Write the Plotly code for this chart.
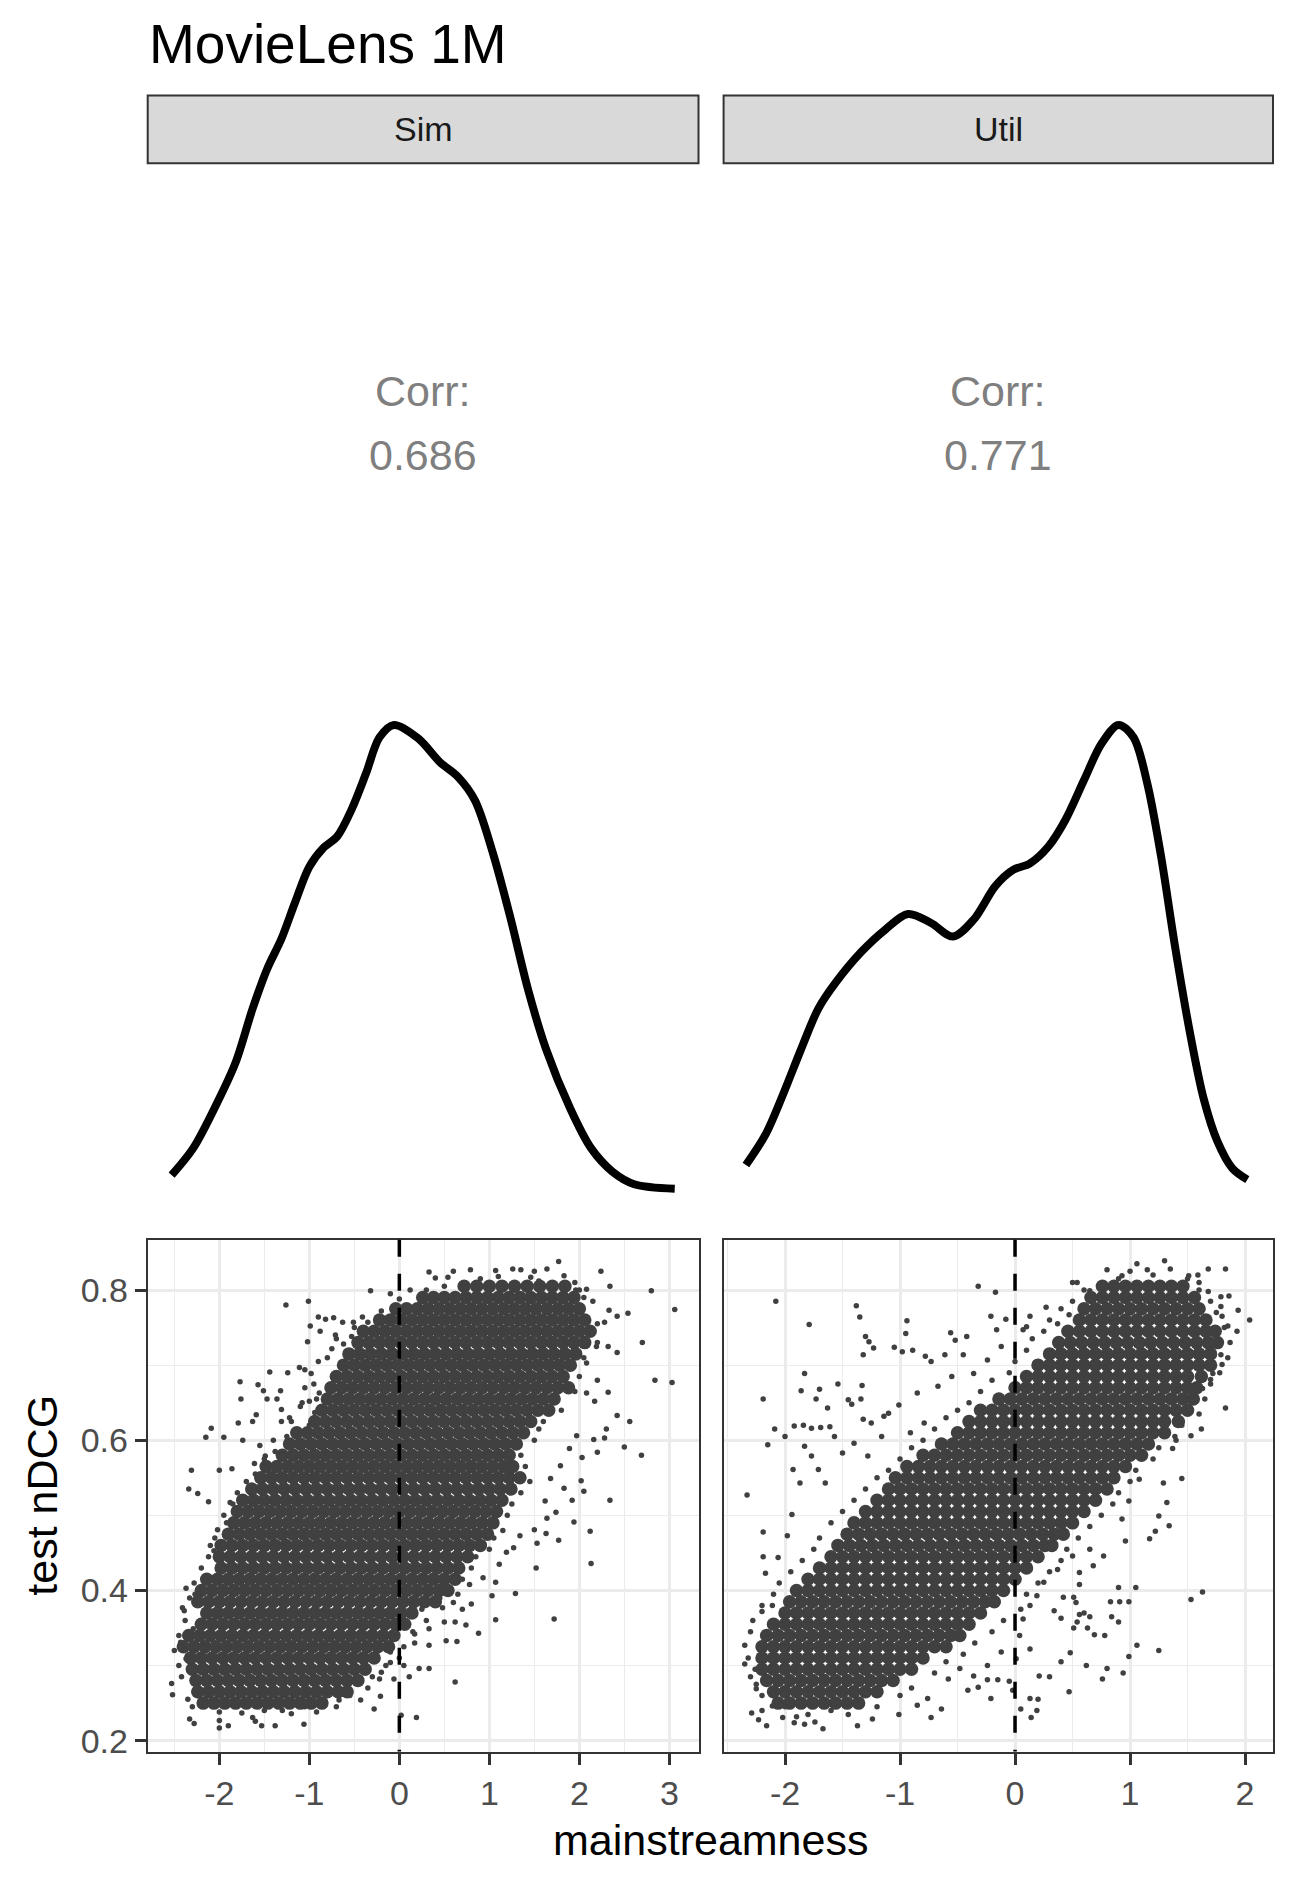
import plotly.graph_objects as go

W, H = 1299, 1889
FONT = "Liberation Sans, Arial, sans-serif"
POINT = "#404040"

# ---- data ----
title = "MovieLens 1M"
methods = ["Sim", "Util"]
corr_values = ["0.686", "0.771"]

# density curves (top row)
sim_dens_x = [-2.53, -2.29, -2.02, -1.82, -1.63, -1.47, -1.31, -1.16, -1.00, -0.84,
              -0.69, -0.53, -0.37, -0.22, -0.06, 0.21, 0.45, 0.65, 0.84, 1.04,
              1.23, 1.43, 1.63, 1.90, 2.13, 2.37, 2.61, 3.06]
sim_dens_y = [0.017, 0.041, 0.082, 0.117, 0.165, 0.200, 0.227, 0.259, 0.291, 0.308,
              0.318, 0.342, 0.374, 0.406, 0.417, 0.405, 0.384, 0.371, 0.350, 0.303,
              0.247, 0.182, 0.129, 0.076, 0.041, 0.020, 0.009, 0.005]
util_dens_x = [-2.34, -2.17, -2.02, -1.86, -1.71, -1.56, -1.34, -1.13, -0.93, -0.73,
               -0.54, -0.36, -0.17, -0.02, 0.13, 0.29, 0.44, 0.60, 0.75, 0.90,
               1.03, 1.15, 1.27, 1.39, 1.52, 1.64, 1.76, 1.89, 2.02]
util_dens_y = [0.026, 0.053, 0.088, 0.129, 0.165, 0.188, 0.215, 0.235, 0.249, 0.241,
               0.229, 0.244, 0.274, 0.288, 0.294, 0.309, 0.333, 0.368, 0.400, 0.417,
               0.406, 0.365, 0.300, 0.221, 0.144, 0.085, 0.047, 0.023, 0.013]

# scatter (bottom row): dense core read row by row, (test nDCG, [mainstreamness ...])
sim_core = [
    (0.805, [0.72, 0.86, 1.00, 1.14, 1.28, 1.42, 1.56, 1.70, 1.84]),
    (0.790, [0.26, 0.38, 0.50, 0.62, 0.74, 0.86, 0.98, 1.10, 1.22, 1.34, 1.46, 1.58, 1.70, 1.82, 1.94]),
    (0.775, [-0.04, 0.08, 0.20, 0.32, 0.44, 0.56, 0.68, 0.80, 0.92, 1.04, 1.16, 1.28, 1.40, 1.52, 1.64, 1.76, 1.88, 2.00]),
    (0.760, [-0.22, -0.10, 0.02, 0.14, 0.26, 0.38, 0.50, 0.62, 0.74, 0.86, 0.98, 1.10, 1.22, 1.34, 1.46, 1.58, 1.70, 1.82, 1.94, 2.06]),
    (0.745, [-0.40, -0.28, -0.16, -0.04, 0.08, 0.20, 0.32, 0.44, 0.56, 0.68, 0.80, 0.92, 1.04, 1.16, 1.28, 1.40, 1.52, 1.64, 1.76, 1.88, 2.00, 2.12]),
    (0.730, [-0.46, -0.34, -0.22, -0.10, 0.02, 0.14, 0.26, 0.38, 0.50, 0.62, 0.74, 0.86, 0.98, 1.10, 1.22, 1.34, 1.46, 1.58, 1.70, 1.82, 1.94, 2.06]),
    (0.715, [-0.56, -0.44, -0.32, -0.20, -0.08, 0.04, 0.16, 0.28, 0.40, 0.52, 0.64, 0.76, 0.88, 1.00, 1.12, 1.24, 1.36, 1.48, 1.60, 1.72, 1.84, 1.96]),
    (0.700, [-0.62, -0.50, -0.38, -0.26, -0.14, -0.02, 0.10, 0.22, 0.34, 0.46, 0.58, 0.70, 0.82, 0.94, 1.06, 1.18, 1.30, 1.42, 1.54, 1.66, 1.78, 1.90]),
    (0.685, [-0.70, -0.58, -0.46, -0.34, -0.22, -0.10, 0.02, 0.14, 0.26, 0.38, 0.50, 0.62, 0.74, 0.86, 0.98, 1.10, 1.22, 1.34, 1.46, 1.58, 1.70, 1.82]),
    (0.670, [-0.76, -0.64, -0.52, -0.40, -0.28, -0.16, -0.04, 0.08, 0.20, 0.32, 0.44, 0.56, 0.68, 0.80, 0.92, 1.04, 1.16, 1.28, 1.40, 1.52, 1.64, 1.76, 1.88]),
    (0.655, [-0.80, -0.68, -0.56, -0.44, -0.32, -0.20, -0.08, 0.04, 0.16, 0.28, 0.40, 0.52, 0.64, 0.76, 0.88, 1.00, 1.12, 1.24, 1.36, 1.48, 1.60, 1.72]),
    (0.640, [-0.86, -0.74, -0.62, -0.50, -0.38, -0.26, -0.14, -0.02, 0.10, 0.22, 0.34, 0.46, 0.58, 0.70, 0.82, 0.94, 1.06, 1.18, 1.30, 1.42, 1.54, 1.66]),
    (0.625, [-0.94, -0.82, -0.70, -0.58, -0.46, -0.34, -0.22, -0.10, 0.02, 0.14, 0.26, 0.38, 0.50, 0.62, 0.74, 0.86, 0.98, 1.10, 1.22, 1.34, 1.46]),
    (0.610, [-1.14, -1.02, -0.90, -0.78, -0.66, -0.54, -0.42, -0.30, -0.18, -0.06, 0.06, 0.18, 0.30, 0.42, 0.54, 0.66, 0.78, 0.90, 1.02, 1.14, 1.26, 1.38]),
    (0.595, [-1.22, -1.10, -0.98, -0.86, -0.74, -0.62, -0.50, -0.38, -0.26, -0.14, -0.02, 0.10, 0.22, 0.34, 0.46, 0.58, 0.70, 0.82, 0.94, 1.06, 1.18, 1.30]),
    (0.580, [-1.30, -1.18, -1.06, -0.94, -0.82, -0.70, -0.58, -0.46, -0.34, -0.22, -0.10, 0.02, 0.14, 0.26, 0.38, 0.50, 0.62, 0.74, 0.86, 0.98, 1.10, 1.22]),
    (0.565, [-1.48, -1.36, -1.24, -1.12, -1.00, -0.88, -0.76, -0.64, -0.52, -0.40, -0.28, -0.16, -0.04, 0.08, 0.20, 0.32, 0.44, 0.56, 0.68, 0.80, 0.92, 1.04, 1.16, 1.26]),
    (0.550, [-1.54, -1.42, -1.30, -1.18, -1.06, -0.94, -0.82, -0.70, -0.58, -0.46, -0.34, -0.22, -0.10, 0.02, 0.14, 0.26, 0.38, 0.50, 0.62, 0.74, 0.86, 0.98, 1.10, 1.22, 1.34]),
    (0.535, [-1.64, -1.52, -1.40, -1.28, -1.16, -1.04, -0.92, -0.80, -0.68, -0.56, -0.44, -0.32, -0.20, -0.08, 0.04, 0.16, 0.28, 0.40, 0.52, 0.64, 0.76, 0.88, 1.00, 1.12, 1.24]),
    (0.520, [-1.74, -1.62, -1.50, -1.38, -1.26, -1.14, -1.02, -0.90, -0.78, -0.66, -0.54, -0.42, -0.30, -0.18, -0.06, 0.06, 0.18, 0.30, 0.42, 0.54, 0.66, 0.78, 0.90, 1.02, 1.14]),
    (0.505, [-1.80, -1.68, -1.56, -1.44, -1.32, -1.20, -1.08, -0.96, -0.84, -0.72, -0.60, -0.48, -0.36, -0.24, -0.12, 0.00, 0.12, 0.24, 0.36, 0.48, 0.60, 0.72, 0.84, 0.96, 1.08]),
    (0.490, [-1.84, -1.72, -1.60, -1.48, -1.36, -1.24, -1.12, -1.00, -0.88, -0.76, -0.64, -0.52, -0.40, -0.28, -0.16, -0.04, 0.08, 0.20, 0.32, 0.44, 0.56, 0.68, 0.80, 0.92, 1.04]),
    (0.475, [-1.90, -1.78, -1.66, -1.54, -1.42, -1.30, -1.18, -1.06, -0.94, -0.82, -0.70, -0.58, -0.46, -0.34, -0.22, -0.10, 0.02, 0.14, 0.26, 0.38, 0.50, 0.62, 0.74, 0.86, 0.98]),
    (0.460, [-1.98, -1.86, -1.74, -1.62, -1.50, -1.38, -1.26, -1.14, -1.02, -0.90, -0.78, -0.66, -0.54, -0.42, -0.30, -0.18, -0.06, 0.06, 0.18, 0.30, 0.42, 0.54, 0.66, 0.78, 0.90]),
    (0.445, [-2.00, -1.88, -1.76, -1.64, -1.52, -1.40, -1.28, -1.16, -1.04, -0.92, -0.80, -0.68, -0.56, -0.44, -0.32, -0.20, -0.08, 0.04, 0.16, 0.28, 0.40, 0.52, 0.64, 0.76]),
    (0.430, [-1.98, -1.86, -1.74, -1.62, -1.50, -1.38, -1.26, -1.14, -1.02, -0.90, -0.78, -0.66, -0.54, -0.42, -0.30, -0.18, -0.06, 0.06, 0.18, 0.30, 0.42, 0.54, 0.66]),
    (0.415, [-2.14, -2.02, -1.90, -1.78, -1.66, -1.54, -1.42, -1.30, -1.18, -1.06, -0.94, -0.82, -0.70, -0.58, -0.46, -0.34, -0.22, -0.10, 0.02, 0.14, 0.26, 0.38, 0.50, 0.62]),
    (0.400, [-2.20, -2.08, -1.96, -1.84, -1.72, -1.60, -1.48, -1.36, -1.24, -1.12, -1.00, -0.88, -0.76, -0.64, -0.52, -0.40, -0.28, -0.16, -0.04, 0.08, 0.20, 0.32, 0.44, 0.54]),
    (0.385, [-2.24, -2.12, -2.00, -1.88, -1.76, -1.64, -1.52, -1.40, -1.28, -1.16, -1.04, -0.92, -0.80, -0.68, -0.56, -0.44, -0.32, -0.20, -0.08, 0.04, 0.16, 0.28, 0.40]),
    (0.370, [-2.14, -2.02, -1.90, -1.78, -1.66, -1.54, -1.42, -1.30, -1.18, -1.06, -0.94, -0.82, -0.70, -0.58, -0.46, -0.34, -0.22, -0.10, 0.02, 0.14]),
    (0.355, [-2.20, -2.08, -1.96, -1.84, -1.72, -1.60, -1.48, -1.36, -1.24, -1.12, -1.00, -0.88, -0.76, -0.64, -0.52, -0.40, -0.28, -0.16, -0.04, 0.06]),
    (0.340, [-2.34, -2.22, -2.10, -1.98, -1.86, -1.74, -1.62, -1.50, -1.38, -1.26, -1.14, -1.02, -0.90, -0.78, -0.66, -0.54, -0.42, -0.30, -0.18, -0.06]),
    (0.325, [-2.40, -2.28, -2.16, -2.04, -1.92, -1.80, -1.68, -1.56, -1.44, -1.32, -1.20, -1.08, -0.96, -0.84, -0.72, -0.60, -0.48, -0.36, -0.24, -0.12]),
    (0.310, [-2.32, -2.20, -2.08, -1.96, -1.84, -1.72, -1.60, -1.48, -1.36, -1.24, -1.12, -1.00, -0.88, -0.76, -0.64, -0.52, -0.40, -0.28]),
    (0.295, [-2.30, -2.18, -2.06, -1.94, -1.82, -1.70, -1.58, -1.46, -1.34, -1.22, -1.10, -0.98, -0.86, -0.74, -0.62, -0.50, -0.38]),
    (0.280, [-2.26, -2.14, -2.02, -1.90, -1.78, -1.66, -1.54, -1.42, -1.30, -1.18, -1.06, -0.94, -0.82, -0.70, -0.58, -0.46]),
    (0.265, [-2.24, -2.12, -2.00, -1.88, -1.76, -1.64, -1.52, -1.40, -1.28, -1.16, -1.04, -0.92, -0.80, -0.68, -0.58]),
    (0.250, [-2.18, -2.06, -1.94, -1.82, -1.70, -1.58, -1.46, -1.34, -1.22, -1.10, -0.98, -0.86]),
]
sim_sparse = [
    (0.33, 0.824), (0.40, 0.816), (0.54, 0.817), (0.60, 0.825), (0.79, 0.827), (1.07, 0.826),
    (1.26, 0.828), (1.35, 0.827), (1.46, 0.817), (1.55, 0.812), (1.64, 0.828), (1.77, 0.838),
    (1.83, 0.819), (1.96, 0.800), (2.08, 0.801), (2.24, 0.825), (2.34, 0.805), (2.80, 0.799),
    (3.06, 0.774), (2.54, 0.769), (2.42, 0.765), (2.28, 0.757), (2.33, 0.773), (2.70, 0.730),
    (2.42, 0.717), (2.32, 0.725), (2.19, 0.725), (2.15, 0.747), (2.08, 0.703), (2.20, 0.680),
    (2.84, 0.680), (3.03, 0.677), (2.32, 0.664), (2.08, 0.663), (2.17, 0.652), (2.42, 0.633),
    (2.56, 0.625), (2.30, 0.615), (1.97, 0.606), (2.16, 0.601), (2.28, 0.603), (2.50, 0.591),
    (2.69, 0.580), (2.20, 0.584), (2.03, 0.577), (1.89, 0.589), (1.79, 0.566), (2.02, 0.546),
    (2.05, 0.532), (1.83, 0.536), (1.68, 0.549), (1.62, 0.519), (1.92, 0.520), (2.34, 0.520),
    (1.64, 0.496), (1.74, 0.504), (1.94, 0.491), (1.50, 0.481), (1.63, 0.476), (1.77, 0.467),
    (2.12, 0.479), (1.53, 0.463), (1.34, 0.473), (1.27, 0.457), (1.19, 0.451), (1.11, 0.435),
    (1.52, 0.430), (2.13, 0.436), (0.93, 0.417), (1.07, 0.411), (0.78, 0.408), (1.03, 0.393),
    (1.29, 0.396), (1.72, 0.362), (1.07, 0.361), (0.60, 0.384), (0.70, 0.375), (0.80, 0.382),
    (0.48, 0.377), (0.50, 0.358), (0.62, 0.358), (0.74, 0.354), (0.88, 0.343), (0.33, 0.349),
    (0.17, 0.342), (0.52, 0.333), (0.64, 0.332), (0.33, 0.327), (0.17, 0.330), (0.33, 0.296),
    (0.22, 0.296), (0.11, 0.285), (-0.06, 0.282), (-0.20, 0.291), (-0.22, 0.282), (-0.43, 0.254),
    (-0.28, 0.242), (-0.21, 0.259), (0.02, 0.234), (0.19, 0.231), (0.62, 0.278), (0.05, 0.300),
    (-0.10, 0.318), (-0.10, 0.304), (-2.53, 0.276), (-2.52, 0.261), (-2.41, 0.377), (-2.39, 0.373),
    (-2.37, 0.403), (-2.27, 0.395), (-2.16, 0.419), (-2.33, 0.229), (-2.28, 0.223), (-2.00, 0.217),
    (-1.90, 0.220), (-1.53, 0.220), (-1.38, 0.220), (-1.06, 0.222), (-2.00, 0.227), (-1.63, 0.231),
    (-1.20, 0.236), (-0.92, 0.238), (-0.67, 0.254), (-0.84, 0.247), (-0.61, 0.265), (-2.37, 0.309),
    (-2.43, 0.331), (-2.29, 0.349), (-2.21, 0.360), (-2.06, 0.453), (-1.96, 0.428), (-2.31, 0.560),
    (-2.34, 0.535), (-2.24, 0.529), (-2.12, 0.518), (-2.00, 0.560), (-1.86, 0.562), (-1.88, 0.517),
    (-1.86, 0.486), (-2.02, 0.481), (-2.09, 0.616), (-2.15, 0.604), (-1.95, 0.604), (-1.74, 0.600),
    (-1.79, 0.623), (-1.63, 0.625), (-1.59, 0.634), (-1.77, 0.678), (-1.76, 0.655), (-1.57, 0.674),
    (-1.51, 0.666), (-1.47, 0.655), (-1.36, 0.655), (-1.32, 0.666), (-1.44, 0.691), (-1.24, 0.690),
    (-1.11, 0.697), (-1.05, 0.694), (-0.98, 0.689), (-0.89, 0.663), (-1.26, 0.780), (-1.01, 0.785),
    (-0.90, 0.764), (-0.82, 0.761), (-0.73, 0.763), (-0.63, 0.757), (-0.51, 0.757), (-0.41, 0.764),
    (-0.99, 0.752), (-0.88, 0.745), (-1.02, 0.731), (-0.71, 0.740), (-0.53, 0.738), (-0.32, 0.799),
    (-0.10, 0.795), (-0.21, 0.764), (-1.31, 0.625), (-1.22, 0.630), (-0.94, 0.637), (-1.55, 0.593),
    (-1.49, 0.579), (-1.61, 0.569), (-1.31, 0.641), (-1.08, 0.650), (-1.00, 0.652),
]
sim_halo = [
    (-0.80, 0.710), (-0.90, 0.705), (-0.75, 0.722), (-0.62, 0.728), (-0.70, 0.735), (-0.50, 0.750),
    (-0.35, 0.757), (-0.20, 0.772), (0.00, 0.788), (0.12, 0.800), (-0.95, 0.675), (-1.05, 0.670),
    (-0.92, 0.655), (-1.10, 0.645), (-1.00, 0.620), (-1.20, 0.625), (-1.25, 0.605), (-1.40, 0.600),
    (-1.38, 0.585), (-1.50, 0.575), (-1.45, 0.560), (-1.60, 0.555), (-1.70, 0.545), (-1.65, 0.530),
    (-1.80, 0.530), (-1.85, 0.515), (-1.95, 0.500), (-1.92, 0.490), (-2.05, 0.470), (-2.10, 0.460),
    (-2.12, 0.445), (-2.20, 0.430), (-2.28, 0.410), (-2.33, 0.390), (-2.38, 0.360), (-2.45, 0.340),
    (-2.50, 0.320), (-2.45, 0.300), (-2.42, 0.285), (-0.70, 0.245), (-0.55, 0.260), (-0.35, 0.270),
    (-0.30, 0.285), (-0.15, 0.300), (0.00, 0.310), (0.05, 0.325), (0.15, 0.345), (0.30, 0.360),
    (0.25, 0.375), (0.45, 0.390), (0.65, 0.395), (0.70, 0.415), (0.80, 0.430), (0.85, 0.445),
    (1.00, 0.455), (1.05, 0.470), (1.15, 0.480), (1.20, 0.500), (1.25, 0.515), (1.35, 0.530),
    (1.45, 0.545), (1.40, 0.565), (1.35, 0.580), (1.50, 0.600), (1.55, 0.615), (1.60, 0.625),
    (1.80, 0.640), (1.75, 0.655), (1.95, 0.665), (2.00, 0.685), (2.05, 0.710), (2.20, 0.730),
    (2.20, 0.755), (2.15, 0.785), (2.05, 0.790), (-2.30, 0.245), (-2.35, 0.255), (-2.00, 0.238),
    (-1.75, 0.237), (-1.50, 0.240), (-1.30, 0.240), (-1.05, 0.245), (-1.60, 0.226), (0.50, 0.805),
    (0.30, 0.800), (1.95, 0.810), (2.00, 0.800), (1.50, 0.825), (1.10, 0.818), (0.90, 0.815),
]

util_core = [
    (0.805, [0.76, 0.86, 0.96, 1.06, 1.16, 1.26, 1.36, 1.46]),
    (0.790, [0.66, 0.76, 0.86, 0.96, 1.06, 1.16, 1.26, 1.36, 1.46, 1.56]),
    (0.775, [0.60, 0.70, 0.80, 0.90, 1.00, 1.10, 1.20, 1.30, 1.40, 1.50, 1.60]),
    (0.760, [0.56, 0.66, 0.76, 0.86, 0.96, 1.06, 1.16, 1.26, 1.36, 1.46, 1.56, 1.66]),
    (0.745, [0.46, 0.56, 0.66, 0.76, 0.86, 0.96, 1.06, 1.16, 1.26, 1.36, 1.46, 1.56, 1.66, 1.74]),
    (0.730, [0.38, 0.48, 0.58, 0.68, 0.78, 0.88, 0.98, 1.08, 1.18, 1.28, 1.38, 1.48, 1.58, 1.68, 1.76]),
    (0.715, [0.30, 0.40, 0.50, 0.60, 0.70, 0.80, 0.90, 1.00, 1.10, 1.20, 1.30, 1.40, 1.50, 1.60, 1.70]),
    (0.700, [0.20, 0.30, 0.40, 0.50, 0.60, 0.70, 0.80, 0.90, 1.00, 1.10, 1.20, 1.30, 1.40, 1.50, 1.60, 1.70]),
    (0.685, [0.10, 0.20, 0.30, 0.40, 0.50, 0.60, 0.70, 0.80, 0.90, 1.00, 1.10, 1.20, 1.30, 1.40, 1.50, 1.62]),
    (0.670, [0.00, 0.10, 0.20, 0.30, 0.40, 0.50, 0.60, 0.70, 0.80, 0.90, 1.00, 1.10, 1.20, 1.30, 1.40, 1.50, 1.58]),
    (0.655, [-0.14, -0.04, 0.06, 0.16, 0.26, 0.36, 0.46, 0.56, 0.66, 0.76, 0.86, 0.96, 1.06, 1.16, 1.26, 1.36, 1.46, 1.55]),
    (0.640, [-0.30, -0.20, -0.10, 0.00, 0.10, 0.20, 0.30, 0.40, 0.50, 0.60, 0.70, 0.80, 0.90, 1.00, 1.10, 1.20, 1.30, 1.40, 1.50]),
    (0.625, [-0.40, -0.30, -0.20, -0.10, 0.00, 0.10, 0.20, 0.30, 0.40, 0.50, 0.60, 0.70, 0.80, 0.90, 1.00, 1.10, 1.20, 1.30, 1.42]),
    (0.610, [-0.50, -0.40, -0.30, -0.20, -0.10, 0.00, 0.10, 0.20, 0.30, 0.40, 0.50, 0.60, 0.70, 0.80, 0.90, 1.00, 1.10, 1.20, 1.30]),
    (0.595, [-0.64, -0.54, -0.44, -0.34, -0.24, -0.14, -0.04, 0.06, 0.16, 0.26, 0.36, 0.46, 0.56, 0.66, 0.76, 0.86, 0.96, 1.06, 1.16]),
    (0.580, [-0.80, -0.70, -0.60, -0.50, -0.40, -0.30, -0.20, -0.10, 0.00, 0.10, 0.20, 0.30, 0.40, 0.50, 0.60, 0.70, 0.80, 0.90, 1.00, 1.10]),
    (0.565, [-0.94, -0.84, -0.74, -0.64, -0.54, -0.44, -0.34, -0.24, -0.14, -0.04, 0.06, 0.16, 0.26, 0.36, 0.46, 0.56, 0.66, 0.76, 0.86, 0.96]),
    (0.550, [-1.04, -0.94, -0.84, -0.74, -0.64, -0.54, -0.44, -0.34, -0.24, -0.14, -0.04, 0.06, 0.16, 0.26, 0.36, 0.46, 0.56, 0.66, 0.76, 0.86]),
    (0.535, [-1.10, -1.00, -0.90, -0.80, -0.70, -0.60, -0.50, -0.40, -0.30, -0.20, -0.10, 0.00, 0.10, 0.20, 0.30, 0.40, 0.50, 0.60, 0.70, 0.80]),
    (0.520, [-1.20, -1.10, -1.00, -0.90, -0.80, -0.70, -0.60, -0.50, -0.40, -0.30, -0.20, -0.10, 0.00, 0.10, 0.20, 0.30, 0.40, 0.50, 0.60, 0.70]),
    (0.505, [-1.30, -1.20, -1.10, -1.00, -0.90, -0.80, -0.70, -0.60, -0.50, -0.40, -0.30, -0.20, -0.10, 0.00, 0.10, 0.20, 0.30, 0.40, 0.50, 0.60]),
    (0.490, [-1.40, -1.30, -1.20, -1.10, -1.00, -0.90, -0.80, -0.70, -0.60, -0.50, -0.40, -0.30, -0.20, -0.10, 0.00, 0.10, 0.20, 0.30, 0.40, 0.50]),
    (0.475, [-1.46, -1.36, -1.26, -1.16, -1.06, -0.96, -0.86, -0.76, -0.66, -0.56, -0.46, -0.36, -0.26, -0.16, -0.06, 0.04, 0.14, 0.24, 0.34, 0.42]),
    (0.460, [-1.54, -1.44, -1.34, -1.24, -1.14, -1.04, -0.94, -0.84, -0.74, -0.64, -0.54, -0.44, -0.34, -0.24, -0.14, -0.04, 0.06, 0.16, 0.26, 0.32]),
    (0.445, [-1.60, -1.50, -1.40, -1.30, -1.20, -1.10, -1.00, -0.90, -0.80, -0.70, -0.60, -0.50, -0.40, -0.30, -0.20, -0.10, 0.00, 0.10, 0.20]),
    (0.430, [-1.70, -1.60, -1.50, -1.40, -1.30, -1.20, -1.10, -1.00, -0.90, -0.80, -0.70, -0.60, -0.50, -0.40, -0.30, -0.20, -0.10, 0.00, 0.10]),
    (0.415, [-1.80, -1.70, -1.60, -1.50, -1.40, -1.30, -1.20, -1.10, -1.00, -0.90, -0.80, -0.70, -0.60, -0.50, -0.40, -0.30, -0.20, -0.10, 0.00]),
    (0.400, [-1.90, -1.80, -1.70, -1.60, -1.50, -1.40, -1.30, -1.20, -1.10, -1.00, -0.90, -0.80, -0.70, -0.60, -0.50, -0.40, -0.30, -0.20, -0.10]),
    (0.385, [-1.96, -1.86, -1.76, -1.66, -1.56, -1.46, -1.36, -1.26, -1.16, -1.06, -0.96, -0.86, -0.76, -0.66, -0.56, -0.46, -0.36, -0.26, -0.18]),
    (0.370, [-2.00, -1.90, -1.80, -1.70, -1.60, -1.50, -1.40, -1.30, -1.20, -1.10, -1.00, -0.90, -0.80, -0.70, -0.60, -0.50, -0.40, -0.30]),
    (0.355, [-2.10, -2.00, -1.90, -1.80, -1.70, -1.60, -1.50, -1.40, -1.30, -1.20, -1.10, -1.00, -0.90, -0.80, -0.70, -0.60, -0.50, -0.40]),
    (0.340, [-2.16, -2.06, -1.96, -1.86, -1.76, -1.66, -1.56, -1.46, -1.36, -1.26, -1.16, -1.06, -0.96, -0.86, -0.76, -0.66, -0.56, -0.48]),
    (0.325, [-2.20, -2.10, -2.00, -1.90, -1.80, -1.70, -1.60, -1.50, -1.40, -1.30, -1.20, -1.10, -1.00, -0.90, -0.80, -0.70, -0.60]),
    (0.310, [-2.20, -2.10, -2.00, -1.90, -1.80, -1.70, -1.60, -1.50, -1.40, -1.30, -1.20, -1.10, -1.00, -0.90, -0.80]),
    (0.295, [-2.20, -2.10, -2.00, -1.90, -1.80, -1.70, -1.60, -1.50, -1.40, -1.30, -1.20, -1.10, -1.00, -0.90]),
    (0.280, [-2.16, -2.06, -1.96, -1.86, -1.76, -1.66, -1.56, -1.46, -1.36, -1.26, -1.16, -1.06]),
    (0.265, [-2.10, -2.00, -1.90, -1.80, -1.70, -1.60, -1.50, -1.40, -1.30, -1.20]),
    (0.250, [-2.06, -1.96, -1.86, -1.76, -1.66, -1.56, -1.46, -1.36]),
]
util_sparse = [
    (-2.08, 0.785), (-1.79, 0.754), (-1.38, 0.779), (-1.35, 0.764), (-0.94, 0.759), (-0.95, 0.742),
    (-0.32, 0.805), (-0.17, 0.797), (-0.21, 0.765), (-0.08, 0.761), (-0.16, 0.747), (-0.42, 0.738),
    (-0.56, 0.743), (-0.52, 0.733), (-1.30, 0.738), (-1.27, 0.731), (-1.23, 0.723), (-1.32, 0.714),
    (-1.05, 0.724), (-0.98, 0.718), (-0.89, 0.720), (-0.78, 0.712), (-0.73, 0.705), (-0.61, 0.714),
    (-0.45, 0.714), (-1.83, 0.689), (-1.54, 0.675), (-1.33, 0.673), (-1.86, 0.666), (-1.70, 0.668),
    (-1.73, 0.655), (-2.19, 0.655), (-1.63, 0.643), (-1.45, 0.654), (-1.42, 0.648), (-1.34, 0.655),
    (-1.32, 0.628), (-1.25, 0.623), (-1.14, 0.632), (-1.10, 0.636), (-1.01, 0.647), (-2.09, 0.615),
    (-2.00, 0.605), (-1.92, 0.619), (-1.84, 0.620), (-1.77, 0.616), (-1.69, 0.617), (-1.61, 0.618),
    (-1.57, 0.605), (-2.15, 0.594), (-2.33, 0.527), (-2.19, 0.478), (-2.19, 0.445), (-2.06, 0.444),
    (-2.17, 0.423), (-1.98, 0.473), (-1.94, 0.501), (-1.93, 0.561), (-1.87, 0.543), (-1.77, 0.579),
    (-1.83, 0.592), (-1.71, 0.561), (-1.65, 0.543), (-1.50, 0.583), (-1.40, 0.596), (-1.28, 0.579),
    (-1.16, 0.605), (-0.91, 0.610), (-0.79, 0.623), (-0.85, 0.663), (-0.67, 0.672), (-0.55, 0.685),
    (-0.36, 0.689), (-0.24, 0.707), (-0.12, 0.725), (0.07, 0.747), (0.13, 0.765), (0.27, 0.777),
    (0.47, 0.767), (0.37, 0.755), (0.10, 0.751), (0.50, 0.810), (0.54, 0.810), (0.65, 0.799),
    (0.74, 0.794), (1.30, 0.839), (1.06, 0.835), (1.15, 0.827), (1.35, 0.828), (1.68, 0.828),
    (1.83, 0.828), (1.59, 0.820), (1.51, 0.819), (1.00, 0.825), (0.80, 0.827), (0.93, 0.819),
    (1.60, 0.800), (1.68, 0.798), (1.79, 0.791), (1.86, 0.792), (1.94, 0.773), (2.04, 0.760),
    (1.93, 0.745), (1.85, 0.752), (1.80, 0.765), (1.79, 0.778), (1.79, 0.714), (1.80, 0.701),
    (1.72, 0.689), (1.70, 0.681), (1.63, 0.669), (1.83, 0.643), (1.62, 0.615), (1.53, 0.606),
    (1.39, 0.605), (1.37, 0.589), (1.45, 0.549), (1.29, 0.543), (1.32, 0.517), (1.25, 0.499),
    (1.34, 0.486), (1.17, 0.469), (1.22, 0.479), (1.08, 0.548), (0.99, 0.519), (0.93, 0.495),
    (0.96, 0.466), (0.90, 0.404), (1.05, 0.404), (0.83, 0.385), (0.91, 0.385), (0.99, 0.385),
    (0.84, 0.365), (0.90, 0.358), (0.69, 0.341), (0.78, 0.340), (0.63, 0.350), (0.56, 0.368),
    (0.65, 0.365), (0.54, 0.358), (0.40, 0.363), (0.51, 0.350), (0.34, 0.373), (0.60, 0.370),
    (0.53, 0.384), (0.51, 0.391), (0.42, 0.391), (0.56, 0.408), (0.56, 0.424), (0.68, 0.433),
    (0.77, 0.446), (0.65, 0.455), (0.50, 0.446), (0.37, 0.428), (0.25, 0.411), (0.19, 0.393),
    (0.13, 0.380), (0.07, 0.362), (0.04, 0.340), (0.13, 0.322), (0.01, 0.309), (-0.12, 0.318),
    (-0.24, 0.300), (1.53, 0.388), (1.63, 0.398), (1.25, 0.320), (1.06, 0.327), (0.99, 0.312),
    (0.94, 0.290), (0.76, 0.282), (0.80, 0.296), (0.62, 0.300), (0.47, 0.265), (0.40, 0.305),
    (0.48, 0.317), (0.30, 0.285), (0.21, 0.286), (0.13, 0.256), (0.20, 0.255), (0.14, 0.231),
    (0.19, 0.240), (0.05, 0.242), (-0.02, 0.267), (-0.36, 0.286), (-0.41, 0.267), (-0.32, 0.271),
    (-0.21, 0.256), (-0.24, 0.281), (-0.15, 0.281), (-0.05, 0.279), (-0.73, 0.231), (-1.01, 0.235),
    (-1.24, 0.229), (-1.37, 0.220), (-1.67, 0.216), (-1.74, 0.225), (-1.83, 0.222), (-1.92, 0.224),
    (-2.02, 0.231), (-2.16, 0.220), (-2.23, 0.228), (-2.29, 0.237), (-2.35, 0.327), (-2.35, 0.302),
    (-2.26, 0.295), (-2.25, 0.269), (-2.20, 0.260), (-2.11, 0.246), (-2.20, 0.372), (-2.11, 0.380),
    (-2.00, 0.362), (-0.76, 0.256), (-0.58, 0.282), (-0.48, 0.296), (-0.85, 0.247), (-0.64, 0.242),
]
util_halo = [
    (0.60, 0.800), (0.50, 0.785), (0.40, 0.775), (0.30, 0.760), (0.25, 0.745), (0.15, 0.735),
    (0.10, 0.720), (0.00, 0.705), (-0.05, 0.690), (-0.20, 0.680), (-0.30, 0.665), (-0.40, 0.650),
    (-0.50, 0.640), (-0.60, 0.630), (-0.70, 0.615), (-0.80, 0.600), (-0.90, 0.590), (-1.00, 0.575),
    (-1.10, 0.560), (-1.20, 0.550), (-1.30, 0.535), (-1.40, 0.520), (-1.50, 0.505), (-1.60, 0.490),
    (-1.70, 0.470), (-1.75, 0.455), (-1.85, 0.440), (-1.95, 0.425), (-2.05, 0.410), (-2.10, 0.395),
    (-2.20, 0.380), (-2.28, 0.360), (-2.30, 0.345), (-2.32, 0.310), (-2.30, 0.285), (-2.25, 0.275),
    (-1.20, 0.245), (-1.00, 0.260), (-0.90, 0.270), (-0.70, 0.290), (-0.60, 0.305), (-0.45, 0.315),
    (-0.35, 0.330), (-0.20, 0.345), (-0.10, 0.360), (0.05, 0.375), (0.10, 0.395), (0.20, 0.410),
    (0.30, 0.425), (0.40, 0.440), (0.45, 0.455), (0.55, 0.470), (0.65, 0.485), (0.75, 0.500),
    (0.85, 0.515), (0.90, 0.530), (1.00, 0.545), (1.05, 0.560), (1.20, 0.575), (1.25, 0.590),
    (1.40, 0.600), (1.45, 0.620), (1.60, 0.635), (1.65, 0.655), (1.70, 0.675), (1.78, 0.690),
    (1.85, 0.710), (1.87, 0.730), (1.82, 0.750), (1.75, 0.770), (1.70, 0.785), (1.60, 0.810),
    (1.50, 0.815), (1.20, 0.820), (0.90, 0.815), (-2.20, 0.240), (-2.00, 0.245), (-1.80, 0.235),
    (-1.60, 0.240), (-1.45, 0.235), (-1.90, 0.232),
]

x_ticks = [[-2, -1, 0, 1, 2, 3], [-2, -1, 0, 1, 2]]
x_minor = [[-2.5, -1.5, -0.5, 0.5, 1.5, 2.5], [-2.5, -1.5, -0.5, 0.5, 1.5]]
y_ticks = [0.2, 0.4, 0.6, 0.8]
y_minor = [0.3, 0.5, 0.7]

# ---- layout in pixels ----
cols = [(147.7, 698.5), (723.6, 1273.0)]
x_ranges = [[-2.796, 3.324], [-2.534, 2.243]]
row_dens = (702, 1222)
row_scat = (1245, 1759)
strip = (96, 164)


def px(v):
    return v / W


def py(v):
    return 1 - v / H


def flat(core):
    xs = [x for yv, row in core for x in row]
    ys = [yv for yv, row in core for _ in row]
    return xs, ys


fig = go.Figure()

dens = [(sim_dens_x, sim_dens_y), (util_dens_x, util_dens_y)]
cores = [sim_core, util_core]
sparse = [sim_sparse + sim_halo, util_sparse + util_halo]

for i in range(2):
    sx = "x" if i == 0 else "x2"
    sy = "y" if i == 0 else "y2"
    dx, dy = ("x3", "y3") if i == 0 else ("x4", "y4")
    fig.add_trace(go.Scatter(
        x=dens[i][0], y=dens[i][1], mode="lines", xaxis=dx, yaxis=dy,
        line=dict(color="black", width=8, shape="spline", smoothing=0.9),
        hoverinfo="skip"))
    cx, cy = flat(cores[i])
    fig.add_trace(go.Scatter(
        x=cx, y=cy, mode="markers", xaxis=sx, yaxis=sy,
        marker=dict(size=13.5, color=POINT, line=dict(width=0))))
    fig.add_trace(go.Scatter(
        x=[p[0] for p in sparse[i]], y=[p[1] for p in sparse[i]],
        mode="markers", xaxis=sx, yaxis=sy,
        marker=dict(size=5.5, color=POINT, line=dict(width=0))))

tickfont = dict(family=FONT, size=34, color="#4D4D4D")


def scat_x(i):
    return dict(
        domain=[px(cols[i][0]), px(cols[i][1])], range=x_ranges[i],
        anchor="y" if i == 0 else "y2",
        tickmode="array", tickvals=x_ticks[i], ticktext=[str(t) for t in x_ticks[i]],
        ticks="outside", ticklen=11, tickwidth=2.5, tickcolor="#333333",
        tickfont=tickfont, showline=True, mirror=True, linecolor="#333333", linewidth=2,
        showgrid=True, gridcolor="#EBEBEB", gridwidth=2.6, zeroline=False,
        minor=dict(tickmode="array", tickvals=x_minor[i], showgrid=True,
                   gridcolor="#EBEBEB", gridwidth=1.3, ticks=""),
        fixedrange=True)


def scat_y(i):
    return dict(
        domain=[py(row_scat[1]), py(row_scat[0])], range=[0.1855, 0.867],
        anchor="x" if i == 0 else "x2",
        tickmode="array", tickvals=y_ticks, ticktext=[f"{t:.1f}" for t in y_ticks],
        ticks="outside" if i == 0 else "", ticklen=11, tickwidth=2.5, tickcolor="#333333",
        showticklabels=(i == 0), tickfont=tickfont,
        showline=True, mirror=True, linecolor="#333333", linewidth=2,
        showgrid=True, gridcolor="#EBEBEB", gridwidth=2.6, zeroline=False,
        minor=dict(tickmode="array", tickvals=y_minor, showgrid=True,
                   gridcolor="#EBEBEB", gridwidth=1.3, ticks=""),
        fixedrange=True)


def dens_x(i):
    return dict(domain=[px(cols[i][0]), px(cols[i][1])], range=x_ranges[i],
                anchor="y3" if i == 0 else "y4", visible=False, fixedrange=True)


def dens_y(i):
    return dict(domain=[py(row_dens[1]), py(row_dens[0])], range=[-0.02, 0.44],
                anchor="x3" if i == 0 else "x4", visible=False, fixedrange=True)


shapes = []
annotations = []
for i in range(2):
    x0, x1 = cols[i]
    shapes.append(dict(type="rect", xref="paper", yref="paper",
                       x0=px(x0), x1=px(x1), y0=py(strip[1]), y1=py(strip[0]),
                       fillcolor="#D9D9D9", line=dict(color="#333333", width=2), layer="below"))
    annotations.append(dict(text=methods[i], xref="paper", yref="paper",
                            x=px((x0 + x1) / 2), y=py((strip[0] + strip[1]) / 2),
                            xanchor="center", yanchor="middle", showarrow=False,
                            font=dict(family=FONT, size=34, color="#1A1A1A")))
    annotations.append(dict(text="Corr:", xref="paper", yref="paper",
                            x=px((x0 + x1) / 2), y=py(393), xanchor="center", yanchor="middle",
                            showarrow=False, font=dict(family=FONT, size=43, color="#7F7F7F")))
    annotations.append(dict(text=corr_values[i], xref="paper", yref="paper",
                            x=px((x0 + x1) / 2), y=py(457), xanchor="center", yanchor="middle",
                            showarrow=False, font=dict(family=FONT, size=43, color="#7F7F7F")))
    shapes.append(dict(type="line", xref="x" if i == 0 else "x2",
                       yref="y domain" if i == 0 else "y2 domain",
                       x0=0, x1=0, y0=1, y1=0, layer="above",
                       line=dict(color="black", width=3.5, dash="17px,17px")))

annotations.append(dict(text=title, xref="paper", yref="paper", x=px(147), y=py(44),
                        xanchor="left", yanchor="middle", showarrow=False,
                        font=dict(family=FONT, size=55, color="black")))
annotations.append(dict(text="mainstreamness", xref="paper", yref="paper",
                        x=px((cols[0][0] + cols[1][1]) / 2), y=py(1848),
                        xanchor="center", yanchor="middle", showarrow=False,
                        font=dict(family=FONT, size=43, color="black")))
annotations.append(dict(text="test nDCG", xref="paper", yref="paper",
                        x=px(42), y=py((row_scat[0] + row_scat[1]) / 2), textangle=-90,
                        xanchor="center", yanchor="middle", showarrow=False,
                        font=dict(family=FONT, size=43, color="black")))

fig.update_layout(
    width=W, height=H, autosize=False,
    margin=dict(l=0, r=0, t=0, b=0),
    paper_bgcolor="white", plot_bgcolor="white",
    showlegend=False,
    font=dict(family=FONT),
    xaxis=scat_x(0), yaxis=scat_y(0),
    xaxis2=scat_x(1), yaxis2=scat_y(1),
    xaxis3=dens_x(0), yaxis3=dens_y(0),
    xaxis4=dens_x(1), yaxis4=dens_y(1),
    shapes=shapes, annotations=annotations,
)

# the page's default body margin would shift the figure by 8px
fig.write_html("out.html", config={"displayModeBar": False},
               post_script="document.body.style.margin = '0px';")
